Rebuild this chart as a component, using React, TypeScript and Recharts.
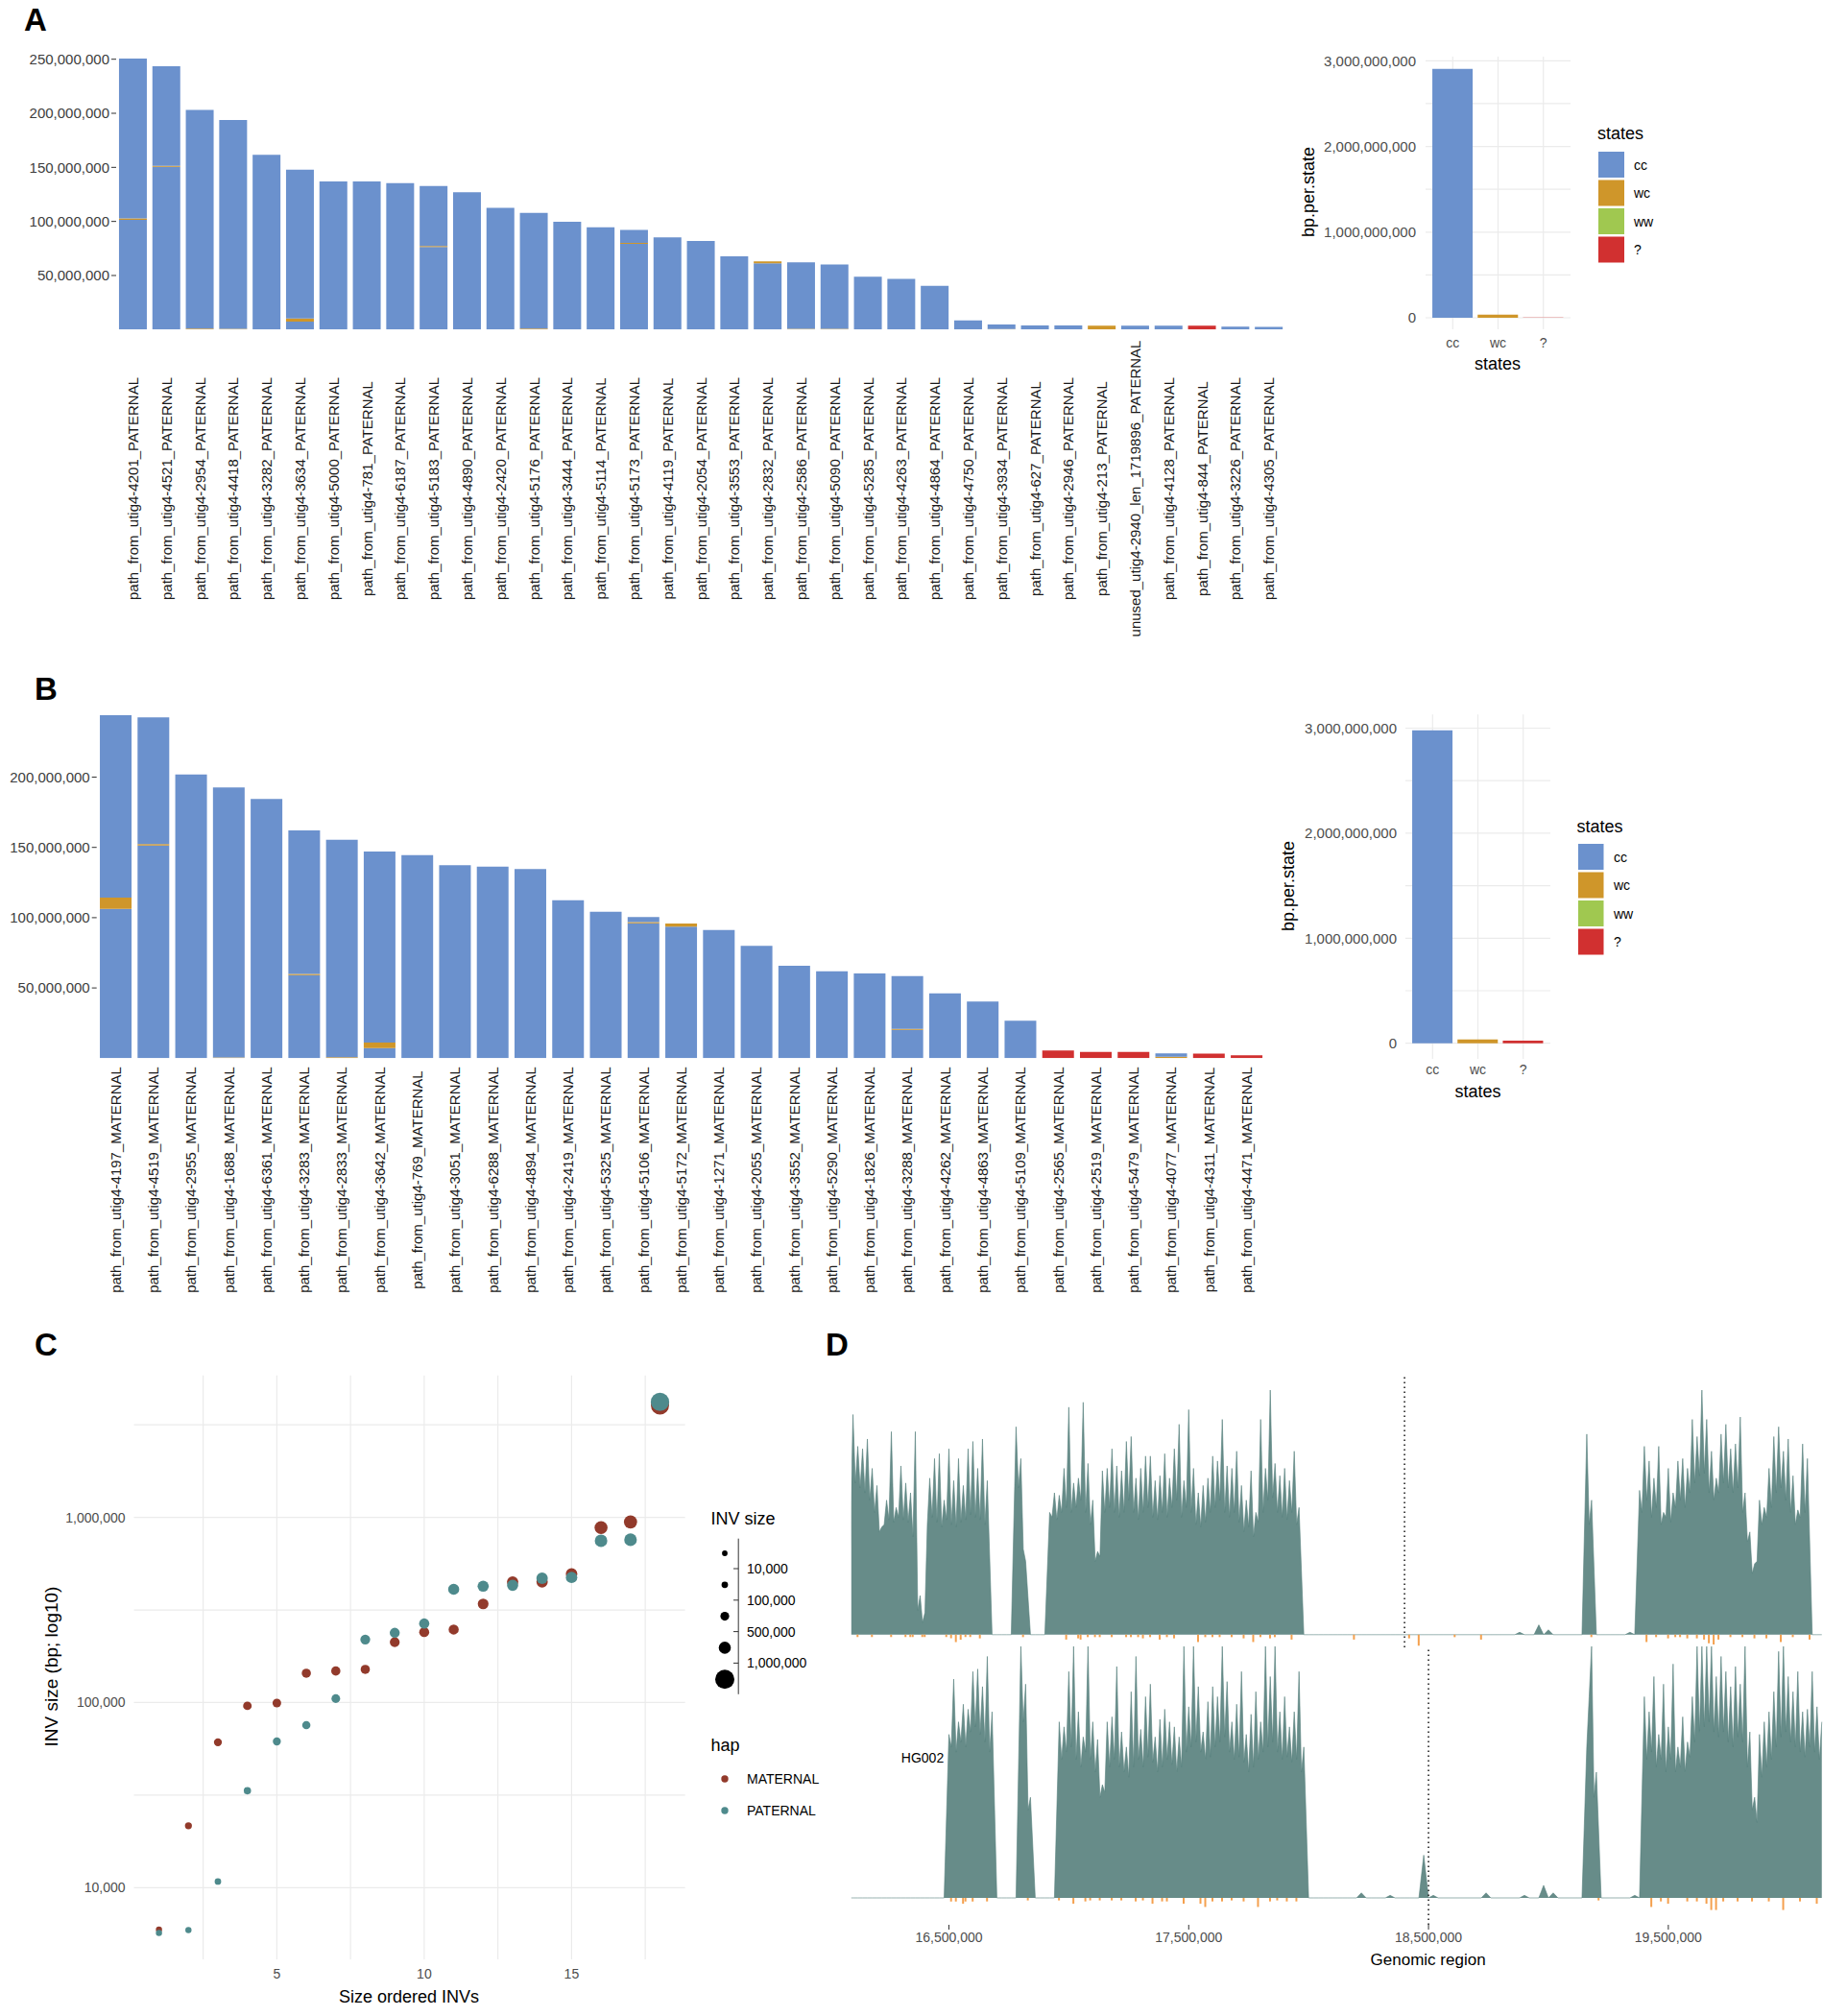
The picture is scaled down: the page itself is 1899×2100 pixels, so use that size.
import React from "react";
import {
  BarChart,
  Bar,
  XAxis,
  YAxis,
  CartesianGrid,
  Cell,
  ScatterChart,
  Scatter,
  ZAxis,
  ComposedChart,
  Area,
  ReferenceLine,
} from "recharts";

const FONT = "'Liberation Sans', Arial, Helvetica, sans-serif";

const CC = "#6b91cd";
const WC = "#cf962a";
const WW = "#a0c850";
const UNK = "#d13030";
const MAT = "#923a2b";
const PAT = "#4e8a8c";
const COV = "#678c89";
const LOW = "#f4a04e";

// ---------- A: paternal contigs, bp per state (Mb) ----------
const patContigs = [
  "path_from_utig4-4201_PATERNAL", "path_from_utig4-4521_PATERNAL", "path_from_utig4-2954_PATERNAL",
  "path_from_utig4-4418_PATERNAL", "path_from_utig4-3282_PATERNAL", "path_from_utig4-3634_PATERNAL",
  "path_from_utig4-5000_PATERNAL", "path_from_utig4-781_PATERNAL", "path_from_utig4-6187_PATERNAL",
  "path_from_utig4-5183_PATERNAL", "path_from_utig4-4890_PATERNAL", "path_from_utig4-2420_PATERNAL",
  "path_from_utig4-5176_PATERNAL", "path_from_utig4-3444_PATERNAL", "path_from_utig4-5114_PATERNAL",
  "path_from_utig4-5173_PATERNAL", "path_from_utig4-4119_PATERNAL", "path_from_utig4-2054_PATERNAL",
  "path_from_utig4-3553_PATERNAL", "path_from_utig4-2832_PATERNAL", "path_from_utig4-2586_PATERNAL",
  "path_from_utig4-5090_PATERNAL", "path_from_utig4-5285_PATERNAL", "path_from_utig4-4263_PATERNAL",
  "path_from_utig4-4864_PATERNAL", "path_from_utig4-4750_PATERNAL", "path_from_utig4-3934_PATERNAL",
  "path_from_utig4-627_PATERNAL", "path_from_utig4-2946_PATERNAL", "path_from_utig4-213_PATERNAL",
  "unused_utig4-2940_len_1719896_PATERNAL", "path_from_utig4-4128_PATERNAL", "path_from_utig4-844_PATERNAL",
  "path_from_utig4-3226_PATERNAL", "path_from_utig4-4305_PATERNAL",
];
const patCcLow = [101.5, 150.5, 0, 0, 161.7, 7.3, 136.9, 136.9, 135.4, 76.5, 127.1, 112.5, 0, 99.8, 94.5, 79.2, 85.3, 82.0, 67.8, 61.3, 0, 0, 48.9, 46.8, 40.5, 8.5, 0, 3.8, 3.8, 0, 3.5, 3.5, 0, 2.8, 2.5];
const patWc = [1.2, 1.0, 1.0, 0.8, 0, 3.0, 0, 0, 0, 0.8, 0, 0, 1.0, 0, 0, 1.0, 0, 0, 0, 1.8, 0.6, 0.6, 0, 0, 0, 0, 0.5, 0, 0, 3.6, 0, 0, 0, 0, 0];
const patCcHigh = [147.8, 92.0, 202.2, 192.9, 0, 137.5, 0, 0, 0, 55.4, 0, 0, 106.8, 0, 0, 11.9, 0, 0, 0, 0, 61.6, 59.5, 0, 0, 0, 0, 4.2, 0, 0, 0, 0, 0, 0, 0, 0];
const patUnknown = [0, 0, 0, 0, 0, 0, 0, 0, 0, 0, 0, 0, 0, 0, 0, 0, 0, 0, 0, 0, 0, 0, 0, 0, 0, 0, 0, 0, 0, 0, 0, 0, 3.5, 0, 0];

// ---------- B: maternal contigs (Mb) ----------
const matContigs = [
  "path_from_utig4-4197_MATERNAL", "path_from_utig4-4519_MATERNAL", "path_from_utig4-2955_MATERNAL",
  "path_from_utig4-1688_MATERNAL", "path_from_utig4-6361_MATERNAL", "path_from_utig4-3283_MATERNAL",
  "path_from_utig4-2833_MATERNAL", "path_from_utig4-3642_MATERNAL", "path_from_utig4-769_MATERNAL",
  "path_from_utig4-3051_MATERNAL", "path_from_utig4-6288_MATERNAL", "path_from_utig4-4894_MATERNAL",
  "path_from_utig4-2419_MATERNAL", "path_from_utig4-5325_MATERNAL", "path_from_utig4-5106_MATERNAL",
  "path_from_utig4-5172_MATERNAL", "path_from_utig4-1271_MATERNAL", "path_from_utig4-2055_MATERNAL",
  "path_from_utig4-3552_MATERNAL", "path_from_utig4-5290_MATERNAL", "path_from_utig4-1826_MATERNAL",
  "path_from_utig4-3288_MATERNAL", "path_from_utig4-4262_MATERNAL", "path_from_utig4-4863_MATERNAL",
  "path_from_utig4-5109_MATERNAL", "path_from_utig4-2565_MATERNAL", "path_from_utig4-2519_MATERNAL",
  "path_from_utig4-5479_MATERNAL", "path_from_utig4-4077_MATERNAL", "path_from_utig4-4311_MATERNAL",
  "path_from_utig4-4471_MATERNAL",
];
const matCcLow = [106.3, 151.3, 201.9, 0, 184.4, 59.2, 0, 7.2, 144.5, 137.3, 136.3, 134.6, 112.4, 104.2, 96.0, 93.6, 91.3, 79.9, 65.8, 61.9, 60.3, 20.2, 46.2, 40.3, 26.6, 0, 0, 0, 0, 0, 0];
const matWc = [8.0, 1.0, 0, 0.6, 0, 0.8, 0.8, 3.9, 0, 0, 0, 0, 0, 0, 0.8, 2.2, 0, 0, 0, 0, 0, 0.7, 0, 0, 0, 0, 0, 0, 1.0, 0, 0];
const matCcHigh = [129.7, 90.2, 0, 192.0, 0, 102.1, 154.7, 136.0, 0, 0, 0, 0, 0, 0, 3.6, 0, 0, 0, 0, 0, 0, 37.6, 0, 0, 0, 0, 0, 0, 2.4, 0, 0];
const matUnknown = [0, 0, 0, 0, 0, 0, 0, 0, 0, 0, 0, 0, 0, 0, 0, 0, 0, 0, 0, 0, 0, 0, 0, 0, 0, 5.5, 4.5, 4.5, 0, 3.2, 2.0];

// ---------- summary per state ----------
const summaryStates = ["cc", "wc", "?"];
const summaryColors = [CC, WC, UNK];
const patStateBp = [2.905e9, 0.037e9, 0.003e9];
const matStateBp = [2.98e9, 0.037e9, 0.025e9];
const legendStates = ["cc", "wc", "ww", "?"];
const legendColors = [CC, WC, WW, UNK];

// ---------- C: size ordered inversions ----------
const invRank = [1, 2, 3, 4, 5, 6, 7, 8, 9, 10, 11, 12, 13, 14, 15, 16, 17, 18];
const matInvSize = [5930, 21600, 61000, 96000, 99400, 144000, 148000, 151000, 212000, 240000, 248000, 341000, 448000, 448000, 495000, 880000, 945000, 4020000];
const patInvSize = [5690, 5900, 10800, 33400, 61600, 75500, 105000, 219000, 238000, 267000, 409000, 425000, 430000, 469000, 474000, 748000, 757000, 4210000];
const sizeKeyLabels = ["10,000", "100,000", "500,000", "1,000,000"];
const sizeKeyRadius = [2.9, 3.4, 4.6, 6.3, 10];

// ---------- D: coverage tracks (Mb positions, coverage in track units) ----------
// peaks sit on a 20 kb grid, the floor between two peaks sits half way
const COV_FIRST_MB = 16.08;
const COV_LAST_MB = 20.14;
const COV_STEP_MB = 0.01;

const topRunStart = [16.1, 16.78, 16.92, 19.16, 19.38];
const topRuns = [
  [90, 77, 76, 80, 68, 61, 44, 55, 83, 52, 69, 62, 58, 83, 16, 9, 64, 72, 74, 55, 76, 63, 72, 61, 76, 79, 68, 80, 63],
  [85, 72, 30],
  [50, 58, 57, 68, 93, 62, 64, 95, 70, 55, 34, 67, 68, 76, 69, 67, 79, 81, 64, 68, 73, 73, 63, 65, 74, 64, 76, 86, 63, 92,
    68, 58, 61, 64, 73, 71, 88, 69, 68, 75, 61, 55, 67, 50, 88, 68, 100, 70, 65, 68, 63, 75, 52],
  [82, 55],
  [59, 77, 71, 64, 77, 50, 68, 58, 71, 72, 68, 88, 81, 100, 88, 75, 64, 82, 86, 76, 78, 89, 58, 42, 29, 55, 52, 68, 81, 85,
    75, 80, 65, 51, 78, 72],
];
const topFloors = [
  [62, 60, 58, 55, 50, 42, 45, 47, 46, 48, 47, 46, 40, 10, 5, 45, 48, 46, 44, 47, 45, 44, 46, 47, 49, 48, 47, 45],
  [60, 35],
  [48, 47, 50, 52, 50, 52, 55, 50, 45, 30, 32, 50, 52, 50, 48, 50, 55, 50, 47, 50, 52, 48, 47, 50, 48, 52, 55, 48, 52, 50,
    45, 44, 46, 50, 52, 55, 50, 48, 50, 46, 42, 44, 40, 46, 50, 55, 56, 50, 48, 47, 50, 45],
  [45],
  [50, 55, 48, 52, 45, 48, 46, 52, 55, 52, 58, 62, 65, 66, 58, 55, 58, 62, 60, 58, 60, 50, 38, 25, 30, 45, 48, 52, 58, 60,
    55, 50, 45, 48, 50],
];
const topSpeckPos = [18.88, 18.96, 19.0, 19.34];
const topSpeckCov = [1, 4, 2, 1];
const topDipPos = [16.12, 16.18, 16.26, 16.32, 16.34, 16.35, 16.39, 16.4, 16.49, 16.51, 16.53, 16.55, 16.57, 16.59, 16.63,
  16.81, 16.99, 17.04, 17.05, 17.08, 17.11, 17.13, 17.18, 17.24, 17.26, 17.29, 17.31, 17.34, 17.38, 17.41, 17.44, 17.54,
  17.57, 17.6, 17.63, 17.68, 17.73, 17.77, 17.8, 17.84, 17.86, 17.93, 18.19, 18.42, 18.46, 18.61, 18.72, 19.18, 19.41,
  19.45, 19.5, 19.53, 19.55, 19.58, 19.62, 19.65, 19.67, 19.69, 19.71, 19.76, 19.81, 19.86, 19.91, 19.97, 20.02, 20.09];
const topDipDepth = [1, 1, 1, 1, 1, 1, 1, 1, 1, 1.5, 3, 2, 1, 1, 1.5,
  1, 2, 1.5, 2, 1, 1, 1, 1, 1, 1, 1, 1.5, 1, 2, 1, 1.5, 3,
  1, 1, 1, 1, 1.5, 3, 1, 1.5, 1, 2, 2, 1.5, 4.5, 1, 2, 1, 3,
  1, 1.5, 1, 1, 1.5, 1.5, 2, 3.5, 4, 2, 1, 1, 1.5, 1.5, 3, 1, 2];

const bottomRunStart = [16.5, 16.8, 16.96, 19.16, 19.4];
const bottomRuns = [
  [65, 87, 70, 77, 75, 90, 91, 84, 96, 74],
  [100, 85, 40],
  [70, 68, 90, 100, 74, 64, 100, 70, 63, 45, 70, 72, 92, 66, 60, 82, 96, 67, 80, 85, 64, 71, 75, 70, 68, 64, 100, 76, 100, 84,
    66, 78, 84, 80, 100, 86, 70, 77, 90, 65, 73, 82, 70, 100, 88, 100, 74, 80, 68, 74, 90, 60],
  [60, 100, 50],
  [80, 74, 88, 65, 85, 68, 93, 60, 72, 62, 80, 100, 100, 100, 100, 88, 96, 90, 84, 92, 85, 100, 66, 40, 65, 70, 74, 82, 98, 100,
    88, 82, 90, 74, 75, 90, 76, 70],
];
const bottomFloors = [
  [60, 58, 62, 60, 66, 68, 65, 62, 58],
  [70, 35],
  [55, 58, 60, 55, 52, 58, 55, 50, 40, 42, 52, 55, 52, 50, 48, 52, 55, 52, 56, 54, 50, 52, 55, 53, 50, 52, 58, 60, 62, 58,
    55, 56, 60, 62, 64, 58, 55, 56, 54, 50, 52, 55, 58, 60, 62, 58, 55, 56, 54, 55, 50],
  [80, 40],
  [55, 58, 52, 55, 50, 55, 50, 52, 50, 56, 62, 66, 68, 70, 66, 64, 66, 62, 60, 64, 62, 52, 35, 30, 48, 52, 55, 60, 64, 66,
    62, 60, 58, 56, 60, 58, 55],
];
const bottomSpeckPos = [18.22, 18.34, 18.48, 18.52, 18.74, 18.9, 18.98, 19.02, 19.36];
const bottomSpeckCov = [2, 1, 17, 1, 2, 1, 5, 2, 1];
const bottomDipPos = [16.51, 16.53, 16.56, 16.57, 16.6, 16.66, 16.83, 16.96, 17.02, 17.07, 17.09, 17.13, 17.18, 17.22,
  17.28, 17.31, 17.35, 17.39, 17.41, 17.48, 17.55, 17.57, 17.6, 17.64, 17.68, 17.73, 17.79, 17.84, 17.87, 17.91, 17.95,
  19.21, 19.43, 19.47, 19.5, 19.58, 19.62, 19.66, 19.68, 19.7, 19.73, 19.79, 19.85, 19.92, 19.98, 20.05, 20.12];
const bottomDipDepth = [1.4, 1.4, 2.3, 1.4, 1.4, 1.4, 1, 1, 2.3, 1.4, 1, 1, 1, 1,
  1.4, 1, 2.3, 1.4, 1.4, 2.3, 2.3, 3.6, 1.4, 1.4, 1, 1.4, 3.6, 1.4, 1, 1.4, 1.4,
  1, 3.6, 1.4, 2.3, 1.4, 1.4, 2.3, 4.8, 4.8, 1.4, 1.4, 1.4, 1.4, 4.8, 1.4, 2.3];

const fmt = (v: number) => Math.round(v).toLocaleString("en-US");

function contigRows(names: string[], low: number[], wc: number[], high: number[], unk: number[]) {
  return names.map((name, i) => ({
    name,
    ccLow: low[i] * 1e6,
    wc: wc[i] * 1e6,
    ccHigh: high[i] * 1e6,
    unknown: unk[i] * 1e6,
  }));
}

function buildTrack(
  runStart: number[], runs: number[][], floors: number[][], speckPos: number[], speckCov: number[],
  dipPos: number[], dipDepth: number[],
) {
  const n = Math.round((COV_LAST_MB - COV_FIRST_MB) / COV_STEP_MB) + 1;
  const rows: { pos: number; cov: number | null; dip: number | null }[] = [];
  for (let k = 0; k < n; k++) {
    rows.push({ pos: Math.round((COV_FIRST_MB + k * COV_STEP_MB) * 1e6), cov: k % 2 === 0 ? 0 : null, dip: null });
  }
  const at = (mb: number) => Math.round((mb - COV_FIRST_MB) / COV_STEP_MB);
  runs.forEach((vals, r) => vals.forEach((v, j) => { rows[at(runStart[r]) + 2 * j].cov = v; }));
  floors.forEach((vals, r) => vals.forEach((v, j) => { rows[at(runStart[r]) + 2 * j + 1].cov = v; }));
  speckPos.forEach((p, i) => { rows[at(p)].cov = speckCov[i]; });
  dipPos.forEach((p, i) => { rows[at(p)].dip = -dipDepth[i]; });
  return rows;
}

function ContigTick(props: any) {
  const { x, y, payload, shift } = props;
  const cy = y + shift;
  return (
    <text x={x} y={cy} transform={`rotate(-90 ${x} ${cy})`} textAnchor="middle" dominantBaseline="central"
      fontSize={15} fontFamily={FONT} fill="#1a1a1a">
      {payload.value}
    </text>
  );
}

function ContigPanel(props: any) {
  const { rows, left, top, width, height, margin, yAxisWidth, xAxisHeight, yMax, yTicks, shift } = props;
  return (
    <div style={{ position: "absolute", left, top, width, height }}>
      <BarChart width={width} height={height} data={rows} margin={margin} barCategoryGap="8.5%">
        <XAxis dataKey="name" interval={0} height={xAxisHeight} axisLine={false} tickLine={false}
          tickSize={0} tickMargin={0} tick={(p: any) => <ContigTick {...p} shift={shift} />} />
        <YAxis type="number" domain={[0, yMax]} ticks={yTicks} width={yAxisWidth} axisLine={false}
          tickLine={{ stroke: "#333" }} tickSize={5} tickMargin={2} tickFormatter={fmt} allowDataOverflow
          tick={{ fontSize: 15, fill: "#3d3d3d", fontFamily: FONT }} />
        <Bar dataKey="ccLow" stackId="s" fill={CC} isAnimationActive={false} />
        <Bar dataKey="wc" stackId="s" fill={WC} isAnimationActive={false} />
        <Bar dataKey="ccHigh" stackId="s" fill={CC} isAnimationActive={false} />
        <Bar dataKey="unknown" stackId="s" fill={UNK} isAnimationActive={false} />
      </BarChart>
    </div>
  );
}

function StatePanel(props: any) {
  const { values, left, top, width, height, margin, yAxisWidth, yDomain, yGap, xGap } = props;
  const rows = summaryStates.map((state, i) => ({ state, bp: values[i] }));
  return (
    <div style={{ position: "absolute", left, top, width, height }}>
      <BarChart width={width} height={height} data={rows} margin={margin} barCategoryGap="5%">
        <CartesianGrid stroke="#ebebeb" strokeWidth={1.2} syncWithTicks />
        <XAxis dataKey="state" height={30} padding={{ left: 4.7, right: 4.7 }} axisLine={false} tickLine={false}
          tickSize={xGap} tickMargin={3} tick={{ fontSize: 14, fill: "#4d4d4d", fontFamily: FONT }} />
        <YAxis type="number" domain={yDomain} allowDataOverflow width={yAxisWidth} axisLine={false} tickLine={false}
          ticks={[0, 0.5e9, 1e9, 1.5e9, 2e9, 2.5e9, 3e9]} tickSize={yGap} tickMargin={4}
          tickFormatter={(v: number) => (v % 1e9 === 0 ? fmt(v) : "")}
          tick={{ fontSize: 15, fill: "#4d4d4d", fontFamily: FONT }} />
        <Bar dataKey="bp" isAnimationActive={false}>
          {rows.map((r, i) => <Cell key={r.state} fill={summaryColors[i]} />)}
        </Bar>
      </BarChart>
    </div>
  );
}

function CoverageTrack(props: any) {
  const { rows, top, height, margin, yDomain, markAt, showAxis } = props;
  return (
    <div style={{ position: "absolute", left: 850, top, width: 1049, height }}>
      <ComposedChart width={1049} height={height} data={rows} margin={margin}>
        <XAxis type="number" dataKey="pos" domain={[16093000, 20145000]} allowDataOverflow hide={!showAxis}
          ticks={[16500000, 17500000, 18500000, 19500000]} tickFormatter={fmt} height={40} axisLine={false}
          tickLine={{ stroke: "#333" }} tickSize={5} tickMargin={3}
          tick={{ fontSize: 14, fill: "#4d4d4d", fontFamily: FONT }} />
        <YAxis type="number" domain={yDomain} allowDataOverflow hide />
        <Area type="linear" dataKey="cov" connectNulls baseValue={0} fill={COV} fillOpacity={1} stroke="#557f7c"
          strokeWidth={0.6} dot={false} activeDot={false} isAnimationActive={false} />
        <Bar dataKey="dip" fill={LOW} barSize={2} isAnimationActive={false} />
        <ReferenceLine x={markAt} stroke="#222" strokeWidth={1.6} strokeDasharray="1.6 3.4" />
      </ComposedChart>
    </div>
  );
}

export default function App() {
  const patRows = contigRows(patContigs, patCcLow, patWc, patCcHigh, patUnknown);
  const matRows = contigRows(matContigs, matCcLow, matWc, matCcHigh, matUnknown);
  const matPoints = invRank.map((x, i) => ({ x, y: matInvSize[i], z: matInvSize[i] }));
  const patPoints = invRank.map((x, i) => ({ x, y: patInvSize[i], z: patInvSize[i] }));
  const topTrack = buildTrack(topRunStart, topRuns, topFloors, topSpeckPos, topSpeckCov, topDipPos, topDipDepth);
  const bottomTrack = buildTrack(bottomRunStart, bottomRuns, bottomFloors, bottomSpeckPos, bottomSpeckCov,
    bottomDipPos, bottomDipDepth);
  const logTicks = [1e4, 31622.7766, 1e5, 316227.766, 1e6, 3162277.66];

  return (
    <div style={{ position: "absolute", left: 0, top: 0, width: 1899, height: 2100, background: "#fff", fontFamily: FONT }}>
      <ContigPanel rows={patRows} left={0} top={0} width={1360} height={700}
        margin={{ top: 44, right: 21, bottom: 36.7, left: 0 }} yAxisWidth={121} xAxisHeight={320}
        yMax={265.7e6} yTicks={[50e6, 100e6, 150e6, 200e6, 250e6]} shift={165.7} />
      <ContigPanel rows={matRows} left={0} top={700} width={1340} height={680}
        margin={{ top: 30, right: 22, bottom: 17.7, left: 0 }} yAxisWidth={100.7} xAxisHeight={260}
        yMax={254.3e6} yTicks={[50e6, 100e6, 150e6, 200e6]} shift={126.7} />

      <StatePanel values={patStateBp} left={1300} top={0} width={480} height={420}
        margin={{ top: 58.9, right: 144, bottom: 47, left: 0 }} yAxisWidth={185}
        yDomain={[-0.1345e9, 3.05e9]} yGap={6} xGap={6} />
      <StatePanel values={matStateBp} left={1300} top={700} width={480} height={440}
        margin={{ top: 44.3, right: 165, bottom: 7, left: 0 }} yAxisWidth={164}
        yDomain={[-0.149e9, 3.13e9]} yGap={5} xGap={3} />

      <div style={{ position: "absolute", left: 0, top: 1380, width: 760, height: 720 }}>
        <ScatterChart width={760} height={720} margin={{ top: 52.8, right: 46.4, bottom: 29, left: 0 }}>
          <CartesianGrid stroke="#ebebeb" strokeWidth={1.2} syncWithTicks />
          <XAxis type="number" dataKey="x" domain={[0.15, 18.85]} allowDataOverflow height={30}
            ticks={[2.5, 5, 7.5, 10, 12.5, 15, 17.5]}
            tickFormatter={(v: number) => (Number.isInteger(v) ? String(v) : "")}
            axisLine={false} tickLine={false} tickSize={6} tickMargin={4}
            tick={{ fontSize: 14, fill: "#4d4d4d", fontFamily: FONT }} />
          <YAxis type="number" dataKey="y" scale="log" domain={[4100, 5840000]} allowDataOverflow width={139.5}
            ticks={logTicks}
            tickFormatter={(v: number) => (Math.abs(Math.log10(v) - Math.round(Math.log10(v))) < 1e-6 ? fmt(v) : "")}
            axisLine={false} tickLine={false} tickSize={5} tickMargin={4}
            tick={{ fontSize: 14, fill: "#4d4d4d", fontFamily: FONT }} />
          <ZAxis type="number" dataKey="z" scale="sqrt" domain={[5000, 4300000]} range={[32, 290]} />
          <Scatter data={matPoints} fill={MAT} isAnimationActive={false} />
          <Scatter data={patPoints} fill={PAT} isAnimationActive={false} />
        </ScatterChart>
      </div>

      <CoverageTrack rows={topTrack} top={1420} height={310} margin={{ top: 14, right: 0, bottom: 14, left: 36.8 }}
        yDomain={[-5.18, 105.5]} markAt={18400000} showAxis={false} />
      <CoverageTrack rows={bottomTrack} top={1700} height={400} margin={{ top: 15, right: 0, bottom: 55, left: 36.8 }}
        yDomain={[-10.69, 100]} markAt={18500000} showAxis />

      <svg width={1899} height={2100} style={{ position: "absolute", left: 0, top: 0, pointerEvents: "none" }}
        fontFamily={FONT}>
        <g fontSize={33} fontWeight="bold" fill="#000">
          <text x={25} y={32}>A</text>
          <text x={36} y={729}>B</text>
          <text x={36} y={1412}>C</text>
          <text x={860} y={1412}>D</text>
        </g>

        {/* A summary titles + legend */}
        <text x={1363} y={200} fontSize={18} textAnchor="middle" dominantBaseline="central"
          transform="rotate(-90 1363 200)">bp.per.state</text>
        <text x={1560} y={379} fontSize={18} textAnchor="middle" dominantBaseline="central">states</text>
        <text x={1664} y={139} fontSize={18} dominantBaseline="central">states</text>
        {legendStates.map((s, i) => (
          <g key={`la-${s}`}>
            <rect x={1665} y={158 + i * 29.5} width={27} height={27} fill={legendColors[i]} />
            <text x={1702} y={171.5 + i * 29.5} fontSize={14} dominantBaseline="central">{s}</text>
          </g>
        ))}

        {/* B summary titles + legend */}
        <text x={1342} y={923} fontSize={18} textAnchor="middle" dominantBaseline="central"
          transform="rotate(-90 1342 923)">bp.per.state</text>
        <text x={1539.5} y={1137} fontSize={18} textAnchor="middle" dominantBaseline="central">states</text>
        <text x={1642.6} y={861} fontSize={18} dominantBaseline="central">states</text>
        {legendStates.map((s, i) => (
          <g key={`lb-${s}`}>
            <rect x={1644} y={879 + i * 29.5} width={26.5} height={27} fill={legendColors[i]} />
            <text x={1681} y={892.5 + i * 29.5} fontSize={14} dominantBaseline="central">{s}</text>
          </g>
        ))}

        {/* C titles + legends */}
        <text x={53.4} y={1736} fontSize={19} textAnchor="middle" dominantBaseline="central"
          transform="rotate(-90 53.4 1736)">INV size (bp; log10)</text>
        <text x={426} y={2080} fontSize={18} textAnchor="middle" dominantBaseline="central">Size ordered INVs</text>
        <text x={740.5} y={1582} fontSize={18} dominantBaseline="central">INV size</text>
        <line x1={769.2} x2={769.2} y1={1602.7} y2={1764.8} stroke="#333" strokeWidth={1} />
        {sizeKeyRadius.map((r, i) => (
          <circle key={`sk-${i}`} cx={755} cy={1618 + i * 32.8} r={r} fill="#000" />
        ))}
        {sizeKeyLabels.map((l, i) => (
          <g key={`sl-${l}`}>
            <line x1={764} x2={769.2} y1={1634 + i * 32.8} y2={1634 + i * 32.8} stroke="#333" />
            <text x={778} y={1634 + i * 32.8} fontSize={14} dominantBaseline="central">{l}</text>
          </g>
        ))}
        <text x={740.5} y={1817.6} fontSize={18} dominantBaseline="central">hap</text>
        <circle cx={755} cy={1853} r={3.7} fill={MAT} />
        <text x={778} y={1853} fontSize={14} dominantBaseline="central">MATERNAL</text>
        <circle cx={755} cy={1886} r={3.7} fill={PAT} />
        <text x={778} y={1886} fontSize={14} dominantBaseline="central">PATERNAL</text>

        {/* D titles */}
        <text x={1487.6} y={2041} fontSize={17} textAnchor="middle" dominantBaseline="central">Genomic region</text>
        <text x={961} y={1831} fontSize={14} textAnchor="middle" dominantBaseline="central">HG002</text>
      </svg>
    </div>
  );
}
